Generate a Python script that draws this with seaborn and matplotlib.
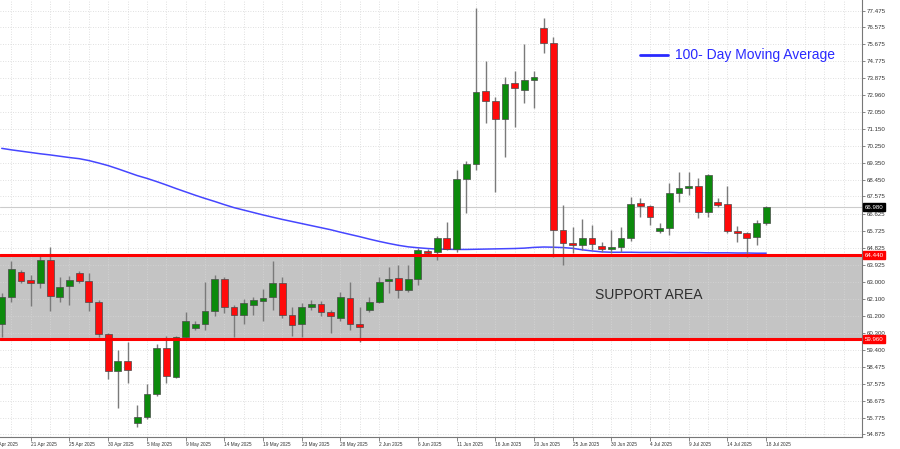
import matplotlib
matplotlib.use("Agg")
import matplotlib.pyplot as plt
import seaborn as sns
import numpy as np
import pandas as pd

# ---- data ----
opens = [60.79, 62.18, 63.52, 63.09, 62.93, 64.16, 62.18, 62.77, 63.47, 63.04,
         61.92, 60.21, 58.28, 58.81, 55.50, 55.82, 57.05, 59.51, 57.96, 60.05,
         60.53, 60.79, 61.44, 63.15, 61.65, 61.27, 61.76, 61.97, 62.18, 62.93,
         61.22, 60.74, 61.65, 61.81, 61.38, 61.11, 62.13, 60.74, 61.49, 61.92,
         63.04, 63.20, 62.56, 63.15, 64.64, 64.59, 65.34, 64.75, 68.50, 69.30,
         73.20, 72.67, 71.70, 73.63, 73.25, 73.79, 76.57, 75.77, 65.77, 65.07,
         64.97, 65.34, 64.91, 64.75, 64.86, 65.34, 67.21, 67.05, 65.71, 65.88,
         67.75, 68.01, 68.12, 66.73, 67.26, 67.16, 65.71, 65.61, 65.39, 66.14]
highs = [62.42, 64.11, 63.63, 63.36, 64.43, 64.86, 63.25, 63.31, 63.57, 63.47,
         62.03, 60.31, 59.40, 59.78, 56.46, 57.59, 59.72, 60.15, 60.15, 61.38,
         60.95, 62.99, 63.36, 63.25, 61.76, 62.08, 62.18, 62.61, 64.11, 63.25,
         61.65, 61.86, 62.03, 61.97, 61.49, 62.45, 62.99, 61.65, 62.18, 63.25,
         63.79, 63.90, 63.90, 64.80, 64.75, 65.45, 66.20, 68.98, 69.46, 77.59,
         74.80, 72.88, 73.95, 74.27, 75.71, 74.27, 77.10, 76.09, 67.10, 65.93,
         66.36, 66.04, 65.13, 65.77, 65.93, 67.53, 67.48, 67.10, 66.14, 68.28,
         68.87, 68.87, 68.55, 68.76, 67.48, 68.12, 65.98, 65.66, 66.30, 67.05]
lows = [60.07, 61.92, 62.93, 61.70, 62.67, 61.44, 61.92, 61.76, 62.93, 61.44,
        60.05, 57.85, 56.30, 57.64, 55.29, 55.71, 56.94, 57.64, 57.91, 59.99,
        60.42, 60.47, 61.17, 61.33, 60.05, 60.79, 61.22, 60.95, 61.49, 61.11,
        60.15, 60.05, 61.49, 61.17, 60.26, 60.95, 60.47, 59.78, 61.38, 61.86,
        62.40, 62.13, 62.45, 62.83, 64.43, 64.16, 64.70, 64.59, 66.68, 68.98,
        71.49, 67.80, 69.67, 71.28, 72.56, 72.29, 75.24, 64.32, 63.90, 64.54,
        64.70, 64.70, 64.59, 64.54, 64.59, 65.18, 66.46, 66.04, 65.61, 65.50,
        67.26, 67.64, 66.41, 66.46, 67.00, 65.61, 65.13, 64.32, 64.97, 66.04]
closes = [62.20, 63.68, 63.04, 62.93, 64.16, 62.24, 62.72, 63.09, 63.04, 61.92,
          60.21, 58.28, 58.81, 58.33, 55.82, 57.05, 59.51, 58.01, 60.05, 60.95,
          60.79, 61.44, 63.15, 61.65, 61.27, 61.86, 62.03, 62.13, 62.93, 61.22,
          60.69, 61.65, 61.81, 61.38, 61.17, 62.18, 60.74, 60.63, 61.92, 62.99,
          63.15, 62.56, 63.15, 64.70, 64.54, 65.34, 64.75, 68.50, 69.30, 73.15,
          72.67, 71.70, 73.57, 73.36, 73.79, 73.95, 75.77, 65.77, 65.07, 64.97,
          65.34, 65.02, 64.75, 64.86, 65.34, 67.16, 67.05, 66.46, 65.88, 67.75,
          68.01, 68.12, 66.73, 68.71, 67.10, 65.71, 65.61, 65.34, 66.14, 66.98]
ma100 = [70.13, 70.05, 69.98, 69.91, 69.84, 69.78, 69.71, 69.64, 69.58, 69.48,
         69.35, 69.21, 69.04, 68.86, 68.68, 68.53, 68.36, 68.18, 67.99, 67.81,
         67.63, 67.46, 67.30, 67.13, 66.97, 66.84, 66.71, 66.58, 66.46, 66.34,
         66.23, 66.12, 66.01, 65.90, 65.79, 65.66, 65.54, 65.42, 65.29, 65.17,
         65.06, 64.96, 64.88, 64.83, 64.79, 64.76, 64.75, 64.74, 64.74, 64.75,
         64.76, 64.77, 64.78, 64.79, 64.81, 64.85, 64.87, 64.86, 64.84, 64.80,
         64.72, 64.66, 64.61, 64.59, 64.59, 64.59, 64.58, 64.58, 64.58, 64.58,
         64.57, 64.57, 64.57, 64.56, 64.56, 64.56, 64.55, 64.55, 64.54, 64.54]
x_tick_labels = ["16 Apr 2025", "21 Apr 2025", "25 Apr 2025", "30 Apr 2025",
                 "5 May 2025", "9 May 2025", "14 May 2025", "19 May 2025",
                 "23 May 2025", "28 May 2025", "2 Jun 2025", "6 Jun 2025",
                 "11 Jun 2025", "16 Jun 2025", "20 Jun 2025", "25 Jun 2025",
                 "30 Jun 2025", "4 Jul 2025", "9 Jul 2025", "14 Jul 2025",
                 "18 Jul 2025"]
y_tick_values = [77.475, 76.575, 75.675, 74.775, 73.875, 72.960, 72.050, 71.150,
                 70.250, 69.350, 68.450, 67.575, 66.625, 65.725, 64.825, 63.925,
                 63.000, 62.100, 61.200, 60.300, 59.400, 58.475, 57.575, 56.675,
                 55.775, 54.875]
support_top = 64.44
support_bottom = 59.96
last_price = 66.98
legend_label = "100- Day Moving Average"
support_label = "SUPPORT AREA"

# ---- styling ----
sns.set_theme(style="white")
plt.rcParams['font.family'] = ['Liberation Sans', 'DejaVu Sans']

bars = np.arange(1, len(opens) + 1)
df = pd.DataFrame({"bar": bars, "open": opens, "high": highs,
                   "low": lows, "close": closes, "ma": ma100})

fig = plt.figure(figsize=(9, 4.49), dpi=100)
ax = fig.add_axes([0, 12 / 449, 862 / 900, 437 / 449])
ax.set_facecolor("white")

# support area
ax.axhspan(support_bottom, support_top, facecolor="#c4c4c4", lw=0, zorder=0.2)

# grid
tick_pos = np.arange(0, 4 * len(x_tick_labels), 4)
ax.set_xticks(tick_pos)
ax.set_xticks(np.arange(0, 92, 2), minor=True)
ax.set_axisbelow(True)
ax.grid(True, which="both", axis="x", color="#d6d6d6", ls=(0, (1, 2)), lw=0.6)
ax.grid(True, which="major", axis="y", color="#d6d6d6", ls=(0, (1, 2)), lw=0.6)

# last price line
ax.axhline(last_price, color="#cccccc", lw=0.8, zorder=1)

# moving average
sns.lineplot(data=df, x="bar", y="ma", ax=ax, color="#4646ff", lw=1.1,
             zorder=2.5, legend=False)

# candles
up = df["close"] >= df["open"]
colors = np.where(up, "#0c8a0c", "#ff0a0a")
body_low = np.minimum(df["open"], df["close"])
body_h = np.maximum(np.abs(df["close"] - df["open"]), 0.05)
ax.vlines(df["bar"], df["low"], df["high"], color="#7a7a7a", lw=1.0, zorder=3)
ax.bar(df["bar"], body_h, bottom=body_low, width=0.7, color=colors,
       edgecolor="#4a4a4a", lw=0.5, zorder=4)

# support lines
ax.axhline(support_top, color="#ff0000", lw=2.2, zorder=5)
ax.axhline(support_bottom, color="#ff0000", lw=2.2, zorder=5)

# texts
ax.text(595 / 862, 1 - 295 / 437, support_label, transform=ax.transAxes,
        ha="left", va="center", fontsize=10, color="#2e2e2e")
ax.plot([640 / 862, 668 / 862], [1 - 55 / 437, 1 - 55 / 437],
        transform=ax.transAxes, color="#2a2aff", lw=2)
ax.text(675 / 862, 1 - 55 / 437, legend_label, transform=ax.transAxes,
        ha="left", va="center", fontsize=10, color="#2a2aff")

# axes
ax.set_xlim(0.82, 89.9)
ax.set_ylim(54.74, 78.04)
ax.set_xticklabels(x_tick_labels, ha="left", fontsize=3.4, color="#333333")
ax.tick_params(axis="x", which="major", length=3, width=0.5, pad=0.5,
               color="#555555", bottom=True)
ax.tick_params(axis="x", which="minor", length=0)
# first (partly off-chart) date label, as the reference shows it cut at the edge
ax.text(tick_pos[0], -0.0115, x_tick_labels[0], transform=ax.get_xaxis_transform(),
        ha="left", va="top", fontsize=3.4, color="#333333", clip_on=False)
ax.yaxis.tick_right()
ax.set_yticks(y_tick_values)
ax.set_yticklabels([f"{v:.3f}" for v in y_tick_values], fontsize=4.4,
                   color="#333333")
ax.tick_params(axis="y", length=2, width=0.5, pad=1.5, color="#555555",
               right=True)
ax.set_xlabel("")
ax.set_ylabel("")
for s in ["top", "left"]:
    ax.spines[s].set_visible(False)
for s in ["right", "bottom"]:
    ax.spines[s].set_color("#777777")
    ax.spines[s].set_linewidth(0.8)

# price boxes on the axis
ytr = ax.get_yaxis_transform()
for val, bg in [(last_price, "black"), (support_top, "#ff0000"),
                (support_bottom, "#ff0000")]:
    ax.text(1.003, val, f"{val:.3f}", transform=ytr, ha="left", va="center",
            fontsize=4.4, color="white", zorder=10, clip_on=False,
            bbox=dict(boxstyle="square,pad=0.25", fc=bg, ec=bg))

fig.savefig("out.png", dpi=100)
